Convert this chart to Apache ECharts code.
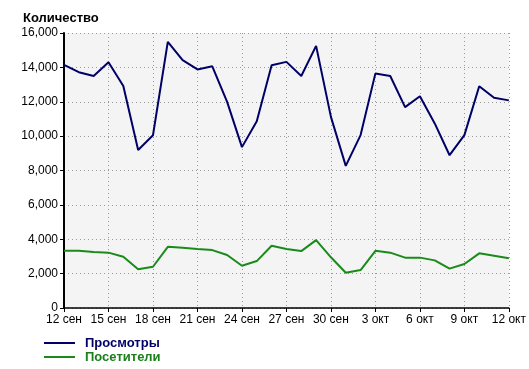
<!DOCTYPE html>
<html><head><meta charset="utf-8">
<script src="https://cdn.jsdelivr.net/npm/echarts@6/dist/echarts.min.js"></script>
<style>html,body{margin:0;padding:0;background:#fff}#c{width:529px;height:369px}</style>
</head><body><div id="c"></div>
<script>
const categories = ['12 сен','13 сен','14 сен','15 сен','16 сен','17 сен','18 сен','19 сен','20 сен','21 сен','22 сен','23 сен','24 сен','25 сен','26 сен','27 сен','28 сен','29 сен','30 сен','1 окт','2 окт','3 окт','4 окт','5 окт','6 окт','7 окт','8 окт','9 окт','10 окт','11 окт','12 окт'];
const views = [14150,13720,13500,14300,12920,9190,10050,15480,14420,13880,14060,11990,9360,10870,14120,14320,13500,15250,11120,8270,10060,13650,13500,11690,12320,10740,8890,10060,12900,12230,12080];
const visitors = [3330,3330,3260,3220,2980,2250,2400,3560,3500,3430,3370,3080,2460,2730,3620,3430,3310,3950,2950,2050,2210,3330,3220,2930,2930,2770,2290,2560,3180,3040,2900];
const seriesNames = ['Просмотры','Посетители'];
const yTitle = 'Количество';

const chart = echarts.init(document.getElementById('c'), null, {renderer:'canvas'});
const font = 'Liberation Sans, Arial, sans-serif';
chart.setOption({
  animation:false,
  title:{text:yTitle,left:18,top:7,textStyle:{fontFamily:font,fontSize:13,fontWeight:'bold',color:'#000'}},
  grid:{left:64,right:19,top:33,bottom:61,show:true,backgroundColor:'#f4f4f4',borderWidth:0},
  legend:{orient:'vertical',left:44,top:336,height:33,padding:0,itemWidth:31,itemHeight:2,itemGap:0,icon:'rect',
    data:[{name:seriesNames[0],textStyle:{color:'#000066'}},{name:seriesNames[1],textStyle:{color:'#1a7f1a'}}],
    textStyle:{fontFamily:font,fontSize:13,fontWeight:'bold',padding:[0,0,0,5],lineHeight:14}},
  xAxis:{type:'category',data:categories,boundaryGap:false,
    axisLine:{lineStyle:{color:'#000',width:1.5}},
    axisTick:{interval:2,length:4,lineStyle:{color:'#000'}},
    axisLabel:{interval:2,color:'#000',fontFamily:font,fontSize:12,margin:6},
    splitLine:{show:true,interval:2,lineStyle:{type:[1,3],color:'#999'}}},
  yAxis:{type:'value',min:0,max:16000,interval:2000,
    axisLine:{show:true,lineStyle:{color:'#000',width:2}},
    axisTick:{show:true,length:4,lineStyle:{color:'#000'}},
    axisLabel:{color:'#000',fontFamily:font,fontSize:12,margin:6,formatter:v=>v.toLocaleString('en-US')},
    splitLine:{show:true,lineStyle:{type:[1,3],color:'#999'}}},
  series:[
    {name:seriesNames[0],type:'line',data:views,showSymbol:false,lineStyle:{color:'#000066',width:2},itemStyle:{color:'#000066'}},
    {name:seriesNames[1],type:'line',data:visitors,showSymbol:false,lineStyle:{color:'#1a8a1a',width:2},itemStyle:{color:'#1a8a1a'}}
  ]
});
</script></body></html>
